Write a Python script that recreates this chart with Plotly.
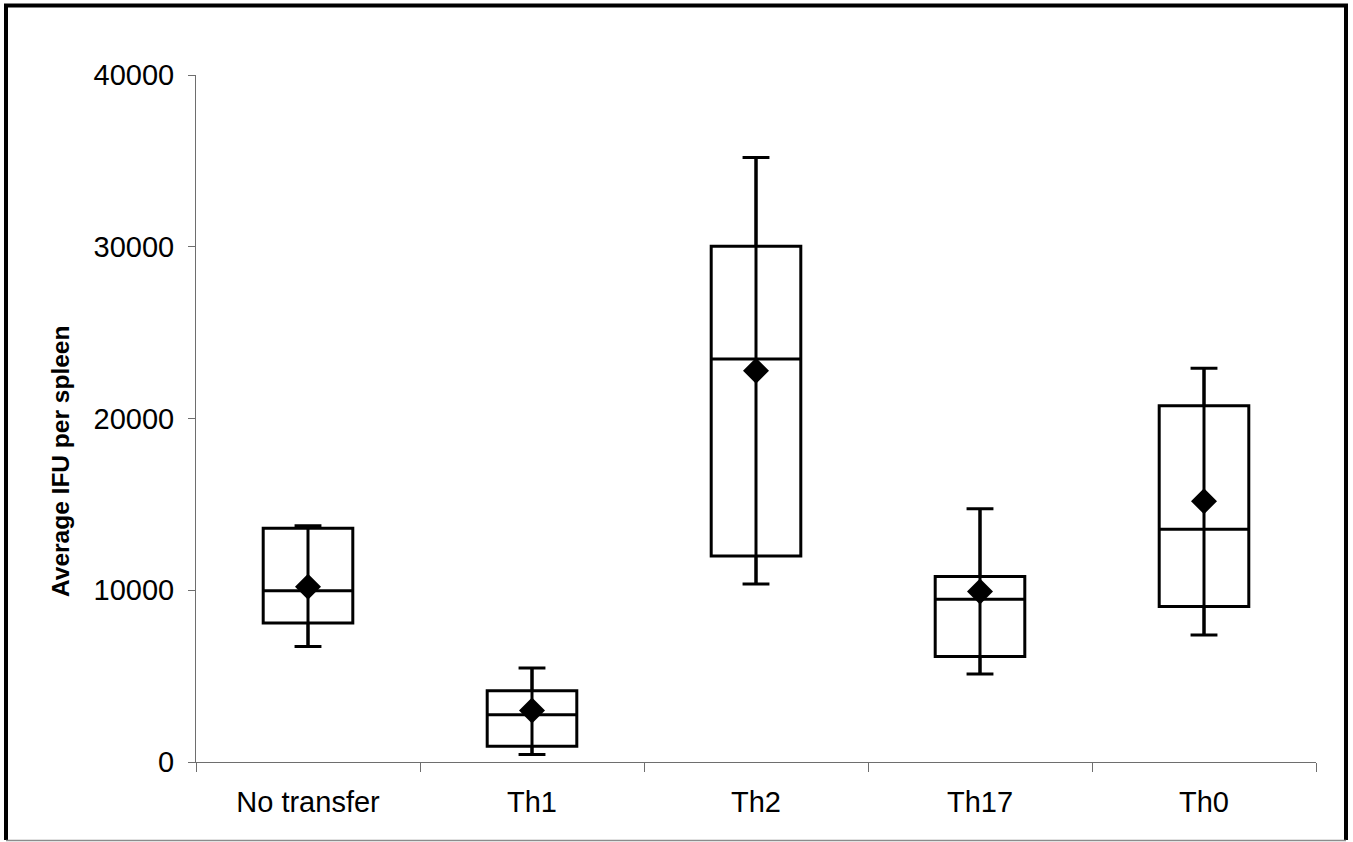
import plotly.graph_objects as go

categories = ["No transfer", "Th1", "Th2", "Th17", "Th0"]
whisker_low = [6720, 430, 10370, 5120, 7400]
q1_vals = [8090, 910, 12000, 6140, 9050]
median_vals = [9970, 2750, 23460, 9480, 13550]
q3_vals = [13610, 4150, 30030, 10800, 20740]
whisker_high = [13750, 5470, 35200, 14740, 22920]
mean_vals = [10200, 3000, 22780, 9920, 15180]
y_ticks = [0, 10000, 20000, 30000, 40000]

fig = go.Figure()

fig.add_trace(go.Box(
    x=categories,
    q1=q1_vals, median=median_vals, q3=q3_vals,
    lowerfence=whisker_low, upperfence=whisker_high,
    width=0.40, whiskerwidth=0.30,
    fillcolor="rgba(255,255,255,0)",
    line=dict(color="black", width=3),
    boxpoints=False, hoverinfo="skip", showlegend=False,
))

# vertical whisker line running through each box
for c, lo, hi in zip(categories, whisker_low, whisker_high):
    fig.add_trace(go.Scatter(
        x=[c, c], y=[lo, hi], mode="lines",
        line=dict(color="black", width=3),
        showlegend=False, hoverinfo="skip",
    ))

fig.add_trace(go.Scatter(
    x=categories, y=mean_vals, mode="markers",
    marker=dict(symbol="diamond", size=20, color="black"),
    showlegend=False,
))

L, R, T, B = 196, 37, 75, 80
W, H = 1353, 842
pw, ph = W - L - R, H - T - B

def px_x(p):
    return (p - L) / pw

def px_y(p):
    return (H - B - p) / ph

frame_path = "M {a},{b} L {a},{c} L {d},{c} L {d},{b}".format(
    a=px_x(6), b=px_y(840), c=px_y(5.5), d=px_x(1346))

fig.update_layout(
    width=W, height=H,
    margin=dict(l=L, r=R, t=T, b=B),
    paper_bgcolor="white", plot_bgcolor="white",
    font=dict(family="Liberation Sans, Arial, sans-serif", color="black", size=29),
    xaxis=dict(
        type="category", categoryorder="array", categoryarray=categories,
        range=[-0.5, 4.5],
        showline=True, linecolor="#6e6e6e", linewidth=1,
        ticks="outside", tickson="boundaries", ticklen=9, tickcolor="#6e6e6e",
        showgrid=False, zeroline=False,
        tickfont=dict(size=29),
        ticklabelstandoff=14,
    ),
    yaxis=dict(
        range=[0, 40000], tickvals=y_ticks, tickformat="d",
        showline=True, linecolor="#6e6e6e", linewidth=1,
        ticks="outside", ticklen=7, tickcolor="#6e6e6e",
        showgrid=False, zeroline=False,
        tickfont=dict(size=29),
        ticklabelstandoff=8,
    ),
    annotations=[dict(
        text="<b>Average IFU per spleen</b>",
        xref="paper", yref="paper",
        x=px_x(60), y=px_y(462),
        xanchor="center", yanchor="middle",
        textangle=-90, showarrow=False,
        font=dict(family="Liberation Sans, Arial, sans-serif", size=24.5, color="black"),
    )],
    shapes=[
        dict(type="path", xref="paper", yref="paper", path=frame_path,
             line=dict(color="black", width=4)),
        dict(type="line", xref="paper", yref="paper",
             x0=px_x(6), x1=px_x(1346), y0=px_y(840.5), y1=px_y(840.5),
             line=dict(color="#8c8c8c", width=1.5)),
    ],
)

fig.write_html("out.html", config={"displayModeBar": False},
               post_script="document.body.style.margin='0';")
